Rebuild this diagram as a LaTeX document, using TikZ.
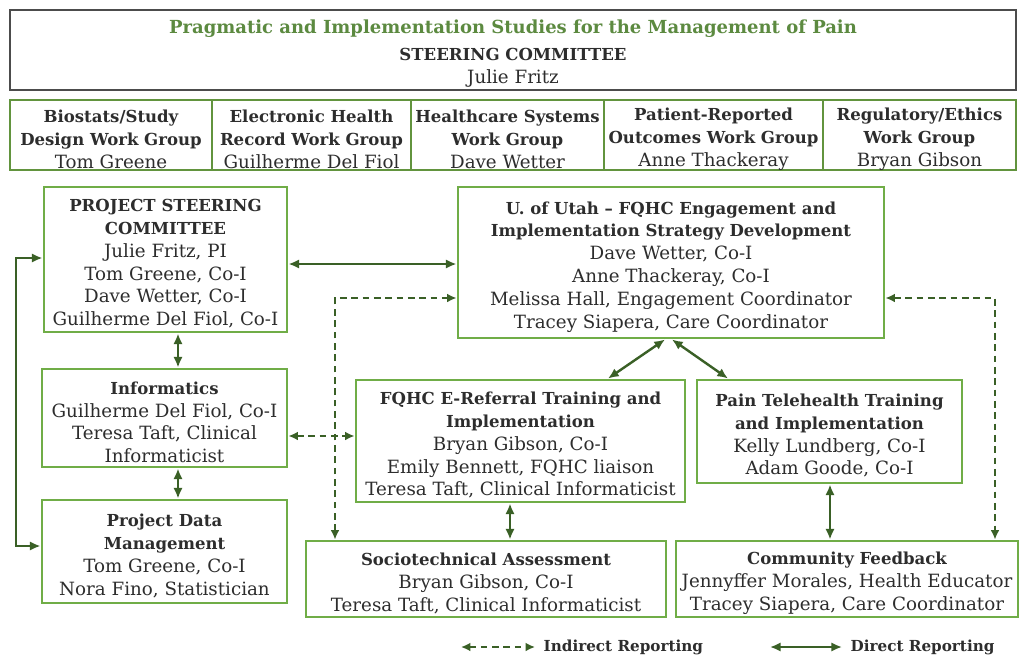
\documentclass[tikz,border=0pt]{standalone}
\usepackage{fontspec}
\setmainfont{DejaVu Serif}
\usetikzlibrary{arrows.meta,calc}
\definecolor{boxgreen}{RGB}{112,173,71}
\definecolor{rowgreen}{RGB}{98,148,62}
\definecolor{arrowgreen}{RGB}{58,96,38}
\definecolor{titlegreen}{RGB}{92,138,64}
\definecolor{inkgray}{RGB}{45,45,45}
% bold heading lines are set a little smaller than the names
\newcommand{\hd}[1]{{\fontsize{12.4pt}{17.1pt}\selectfont\bfseries #1}}
% strut on the first line that lowers the text block a little inside its box
\newcommand{\tp}{\rule{0pt}{15.8pt}}
\begin{document}
\begin{tikzpicture}[x=0.75pt,y=-0.75pt,
  every node/.style={text=inkgray,font=\fontsize{13.7pt}{17.1pt}\selectfont},
  gbox/.style={draw=boxgreen,line width=2.2pt,align=center,inner sep=0pt},
  wgcell/.style={draw=rowgreen,line width=1.6pt,align=center,inner sep=0pt,minimum height=70*0.75pt},
  direct/.style={draw=arrowgreen,line width=1.8pt,{Latex[length=8pt,width=7pt]}-{Latex[length=8pt,width=7pt]}},
  indirect/.style={draw=arrowgreen,line width=1.3pt,dash pattern=on 5pt off 3.5pt,{Latex[length=7pt,width=6.5pt]}-{Latex[length=7pt,width=6.5pt]}},
  legendtext/.style={anchor=west,font=\fontsize{11.4pt}{12pt}\selectfont\bfseries}]
\useasboundingbox[fill=white] (0,0) rectangle (1021,658);

% steering committee banner
\node[draw=black!70,line width=1pt,align=center,minimum width=1006*0.75pt,minimum height=80*0.75pt,inner sep=0pt] (top) at (513,50)
  {\tp{\color{titlegreen}\fontsize{13.5pt}{17.1pt}\selectfont\bfseries Pragmatic and Implementation Studies for the Management of Pain}\\[3pt]
   \hd{STEERING COMMITTEE}\\ Julie Fritz};

% work groups row
\node[wgcell,minimum width=202*0.75pt] (wg1) at (111,135) {\tp\hd{Biostats/Study}\\ \hd{Design Work Group}\\ Tom Greene};
\node[wgcell,minimum width=199*0.75pt] (wg2) at (311.5,135) {\tp\hd{Electronic Health}\\ \hd{Record Work Group}\\ Guilherme Del Fiol};
\node[wgcell,minimum width=193*0.75pt] (wg3) at (507.5,135) {\tp\hd{Healthcare Systems}\\ \hd{Work Group}\\ Dave Wetter};
\node[wgcell,minimum width=219*0.75pt] (wg4) at (713.5,135) {\tp\hd{Patient-Reported}\\ \hd{Outcomes Work Group}\\ Anne Thackeray};
\node[wgcell,minimum width=193*0.75pt] (wg5) at (919.5,135) {\tp\hd{Regulatory/Ethics}\\ \hd{Work Group}\\ Bryan Gibson};

% project boxes
\node[gbox,minimum width=243*0.75pt,minimum height=145*0.75pt] (psc) at (165.5,259.5)
  {\tp\hd{PROJECT STEERING}\\ \hd{COMMITTEE}\\ Julie Fritz, PI\\ Tom Greene, Co-I\\ Dave Wetter, Co-I\\ Guilherme Del Fiol, Co-I};
\node[gbox,minimum width=426*0.75pt,minimum height=151*0.75pt] (utah) at (671,262.5)
  {\tp\hd{U. of Utah -- FQHC Engagement and}\\ \hd{Implementation Strategy Development}\\ Dave Wetter, Co-I\\ Anne Thackeray, Co-I\\ Melissa Hall, Engagement Coordinator\\ Tracey Siapera, Care Coordinator};
\node[gbox,minimum width=245*0.75pt,minimum height=98*0.75pt] (inf) at (164.5,418)
  {\tp\hd{Informatics}\\ Guilherme Del Fiol, Co-I\\ Teresa Taft, Clinical\\ Informaticist};
\node[gbox,minimum width=245*0.75pt,minimum height=103*0.75pt] (pdm) at (164.5,551.5)
  {\tp\hd{Project Data}\\ \hd{Management}\\ Tom Greene, Co-I\\ Nora Fino, Statistician};
\node[gbox,minimum width=329*0.75pt,minimum height=122*0.75pt] (fqhc) at (520.5,441)
  {\tp\hd{FQHC E-Referral Training and}\\ \hd{Implementation}\\ Bryan Gibson, Co-I\\ Emily Bennett, FQHC liaison\\ Teresa Taft, Clinical Informaticist};
\node[gbox,minimum width=265*0.75pt,minimum height=103*0.75pt] (pain) at (829.5,431.5)
  {\tp\hd{Pain Telehealth Training}\\ \hd{and Implementation}\\ Kelly Lundberg, Co-I\\ Adam Goode, Co-I};
\node[gbox,minimum width=360*0.75pt,minimum height=76*0.75pt] (socio) at (486,579)
  {\tp\hd{Sociotechnical Assessment}\\ Bryan Gibson, Co-I\\ Teresa Taft, Clinical Informaticist};
\node[gbox,minimum width=342*0.75pt,minimum height=76*0.75pt] (comm) at (847,579)
  {\tp\hd{Community Feedback}\\ Jennyffer Morales, Health Educator\\ Tracey Siapera, Care Coordinator};

% direct reporting lines
\draw[direct] (psc.east |- 0,264) -- (utah.west |- 0,264);
\draw[direct] (psc.south -| 178,0) -- (inf.north -| 178,0);
\draw[direct] (inf.south -| 178,0) -- (pdm.north -| 178,0);
\draw[direct] (psc.west |- 0,258) -- (16,258) -- (16,546) -- (pdm.west |- 0,546);
\draw[direct] (utah.south -| 665,0) -- (fqhc.north -| 608,0);
\draw[direct] (utah.south -| 672,0) -- (pain.north -| 728,0);
\draw[direct] (fqhc.south -| 510,0) -- (socio.north -| 510,0);
\draw[direct] (pain.south -| 830,0) -- (comm.north -| 830,0);

% indirect reporting lines
\draw[indirect] (socio.north -| 335,0) |- (utah.west |- 0,298);
\draw[indirect] (utah.east |- 0,298) -| (comm.north -| 995,0);
\draw[indirect] (inf.east |- 0,436) -- (fqhc.west |- 0,436);

% legend
\coordinate (inda) at (461,647);
\coordinate (indb) at (535,647);
\coordinate (dira) at (770,647);
\coordinate (dirb) at (842,647);
\draw[indirect] (inda) -- (indb);
\node[legendtext] (indlabel) at (539,647) {Indirect Reporting};
\draw[direct,line width=1.5pt] (dira) -- (dirb);
\node[legendtext] (dirlabel) at (846,647) {Direct Reporting};
\end{tikzpicture}
\end{document}
